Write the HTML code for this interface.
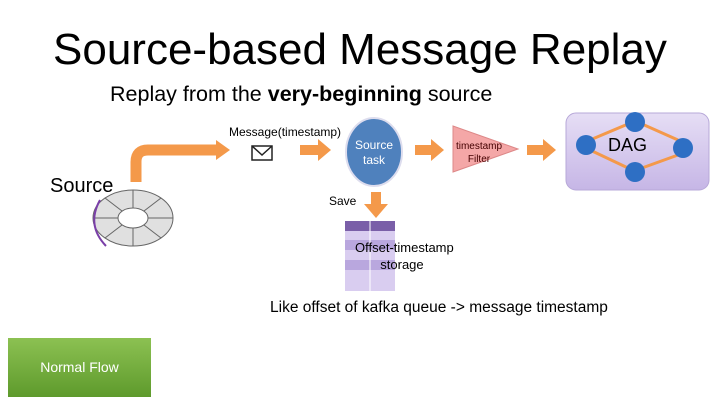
<!DOCTYPE html>
<html><head><style>
body{margin:0;width:720px;height:405px;background:#fff;position:relative;overflow:hidden;font-family:"Liberation Sans",sans-serif}
.t{position:absolute;white-space:nowrap}
</style></head><body>
<div class="t" style="left:53px;top:25px;font-size:44px;color:#000">Source-based Message Replay</div>
<div class="t" style="left:110px;top:82px;font-size:21.5px">Replay from the <b>very-beginning</b> source</div>
<div class="t" style="left:50px;top:175px;font-size:20px">Source</div>
<svg width="720" height="405" style="position:absolute;left:0;top:0">
<defs>
<linearGradient id="dg" x1="0" y1="0" x2="0" y2="1"><stop offset="0" stop-color="#e6def5"/><stop offset="1" stop-color="#c6b6e6"/></linearGradient>
<linearGradient id="gr" x1="0" y1="0" x2="0" y2="1"><stop offset="0" stop-color="#8cc152"/><stop offset="1" stop-color="#5e9a2c"/></linearGradient>
</defs>
<path d="M136 182 V162 Q136 150 148 150 H218" fill="none" stroke="#f4994a" stroke-width="11"/>
<polygon points="216,140 230,150 216,160" fill="#f4994a"/>
<rect x="252" y="146" width="20" height="14" fill="#fff" stroke="#222" stroke-width="1.5"/>
<polyline points="252,146 262,155 272,146" fill="none" stroke="#222" stroke-width="1.5"/>
<g fill="#f4994a">
<rect x="300" y="145" width="20" height="10"/><polygon points="318,139 331,150 318,161"/>
<rect x="415" y="145" width="18" height="10"/><polygon points="431,139 444,150 431,161"/>
<rect x="527" y="145" width="18" height="10"/><polygon points="543,139 556,150 543,161"/>
<rect x="371" y="192" width="10" height="14"/><polygon points="364,204 388,204 376,218"/>
</g>
<ellipse cx="374" cy="152" rx="28" ry="34" fill="#4f81bd" stroke="#dde" stroke-width="2"/>
<polygon points="453,126 518,149 453,172" fill="#f4a7a7" stroke="#d88" stroke-width="1"/>
<rect x="566" y="113" width="143" height="77" rx="10" fill="url(#dg)" stroke="#b7a8d8"/>
<g stroke="#f4994a" stroke-width="3" fill="none">
<line x1="590" y1="140" x2="628" y2="124"/><line x1="590" y1="150" x2="628" y2="168"/>
<line x1="642" y1="124" x2="678" y2="140"/><line x1="642" y1="168" x2="678" y2="155"/>
</g>
<g fill="#2e6fc4"><circle cx="586" cy="145" r="10"/><circle cx="635" cy="122" r="10"/><circle cx="635" cy="172" r="10"/><circle cx="683" cy="148" r="10"/></g>
<rect x="345" y="221" width="50" height="70" fill="#d9cdf0"/>
<rect x="345" y="221" width="50" height="10" fill="#7a5fa8"/>
<rect x="345" y="240" width="50" height="10" fill="#b9a7de"/>
<rect x="345" y="260" width="50" height="10" fill="#b9a7de"/>
<line x1="370" y1="221" x2="370" y2="291" stroke="#fff"/>
<ellipse cx="133" cy="218" rx="40" ry="28" fill="#e0e0e0" stroke="#666"/>
<ellipse cx="133" cy="218" rx="15" ry="10" fill="#fff" stroke="#666"/>
<g stroke="#666"><line x1="133" y1="190" x2="133" y2="208"/><line x1="133" y1="228" x2="133" y2="246"/><line x1="93" y1="218" x2="118" y2="218"/><line x1="148" y1="218" x2="173" y2="218"/><line x1="105" y1="198" x2="122" y2="211"/><line x1="161" y1="198" x2="144" y2="211"/><line x1="105" y1="238" x2="122" y2="225"/><line x1="161" y1="238" x2="144" y2="225"/></g>
<path d="M100 200 Q86 225 106 246" fill="none" stroke="#7a3fa8" stroke-width="2"/>
<rect x="8" y="338" width="143" height="59" fill="url(#gr)"/>
</svg>
<div class="t" style="left:229px;top:125px;font-size:12px">Message(timestamp)</div>
<div class="t" style="left:350px;top:138px;font-size:12px;color:#fff;text-align:center;width:48px;line-height:15px">Source<br>task</div>
<div class="t" style="left:455px;top:140px;font-size:10px;color:#400;line-height:13px;text-align:center;width:48px">timestamp<br>Filter</div>
<div class="t" style="left:608px;top:135px;font-size:18px">DAG</div>
<div class="t" style="left:329px;top:194px;font-size:12px">Save</div>
<div class="t" style="left:355px;top:239px;font-size:13px;line-height:17px">Offset-timestamp<br>&nbsp;&nbsp;&nbsp;&nbsp;&nbsp;&nbsp;&nbsp;storage</div>
<div class="t" style="left:270px;top:299px;font-size:15.5px">Like offset of kafka queue -&gt; message timestamp</div>
<div class="t" style="left:8px;top:359px;width:143px;text-align:center;font-size:14px;color:#fff">Normal Flow</div>
</body></html>
